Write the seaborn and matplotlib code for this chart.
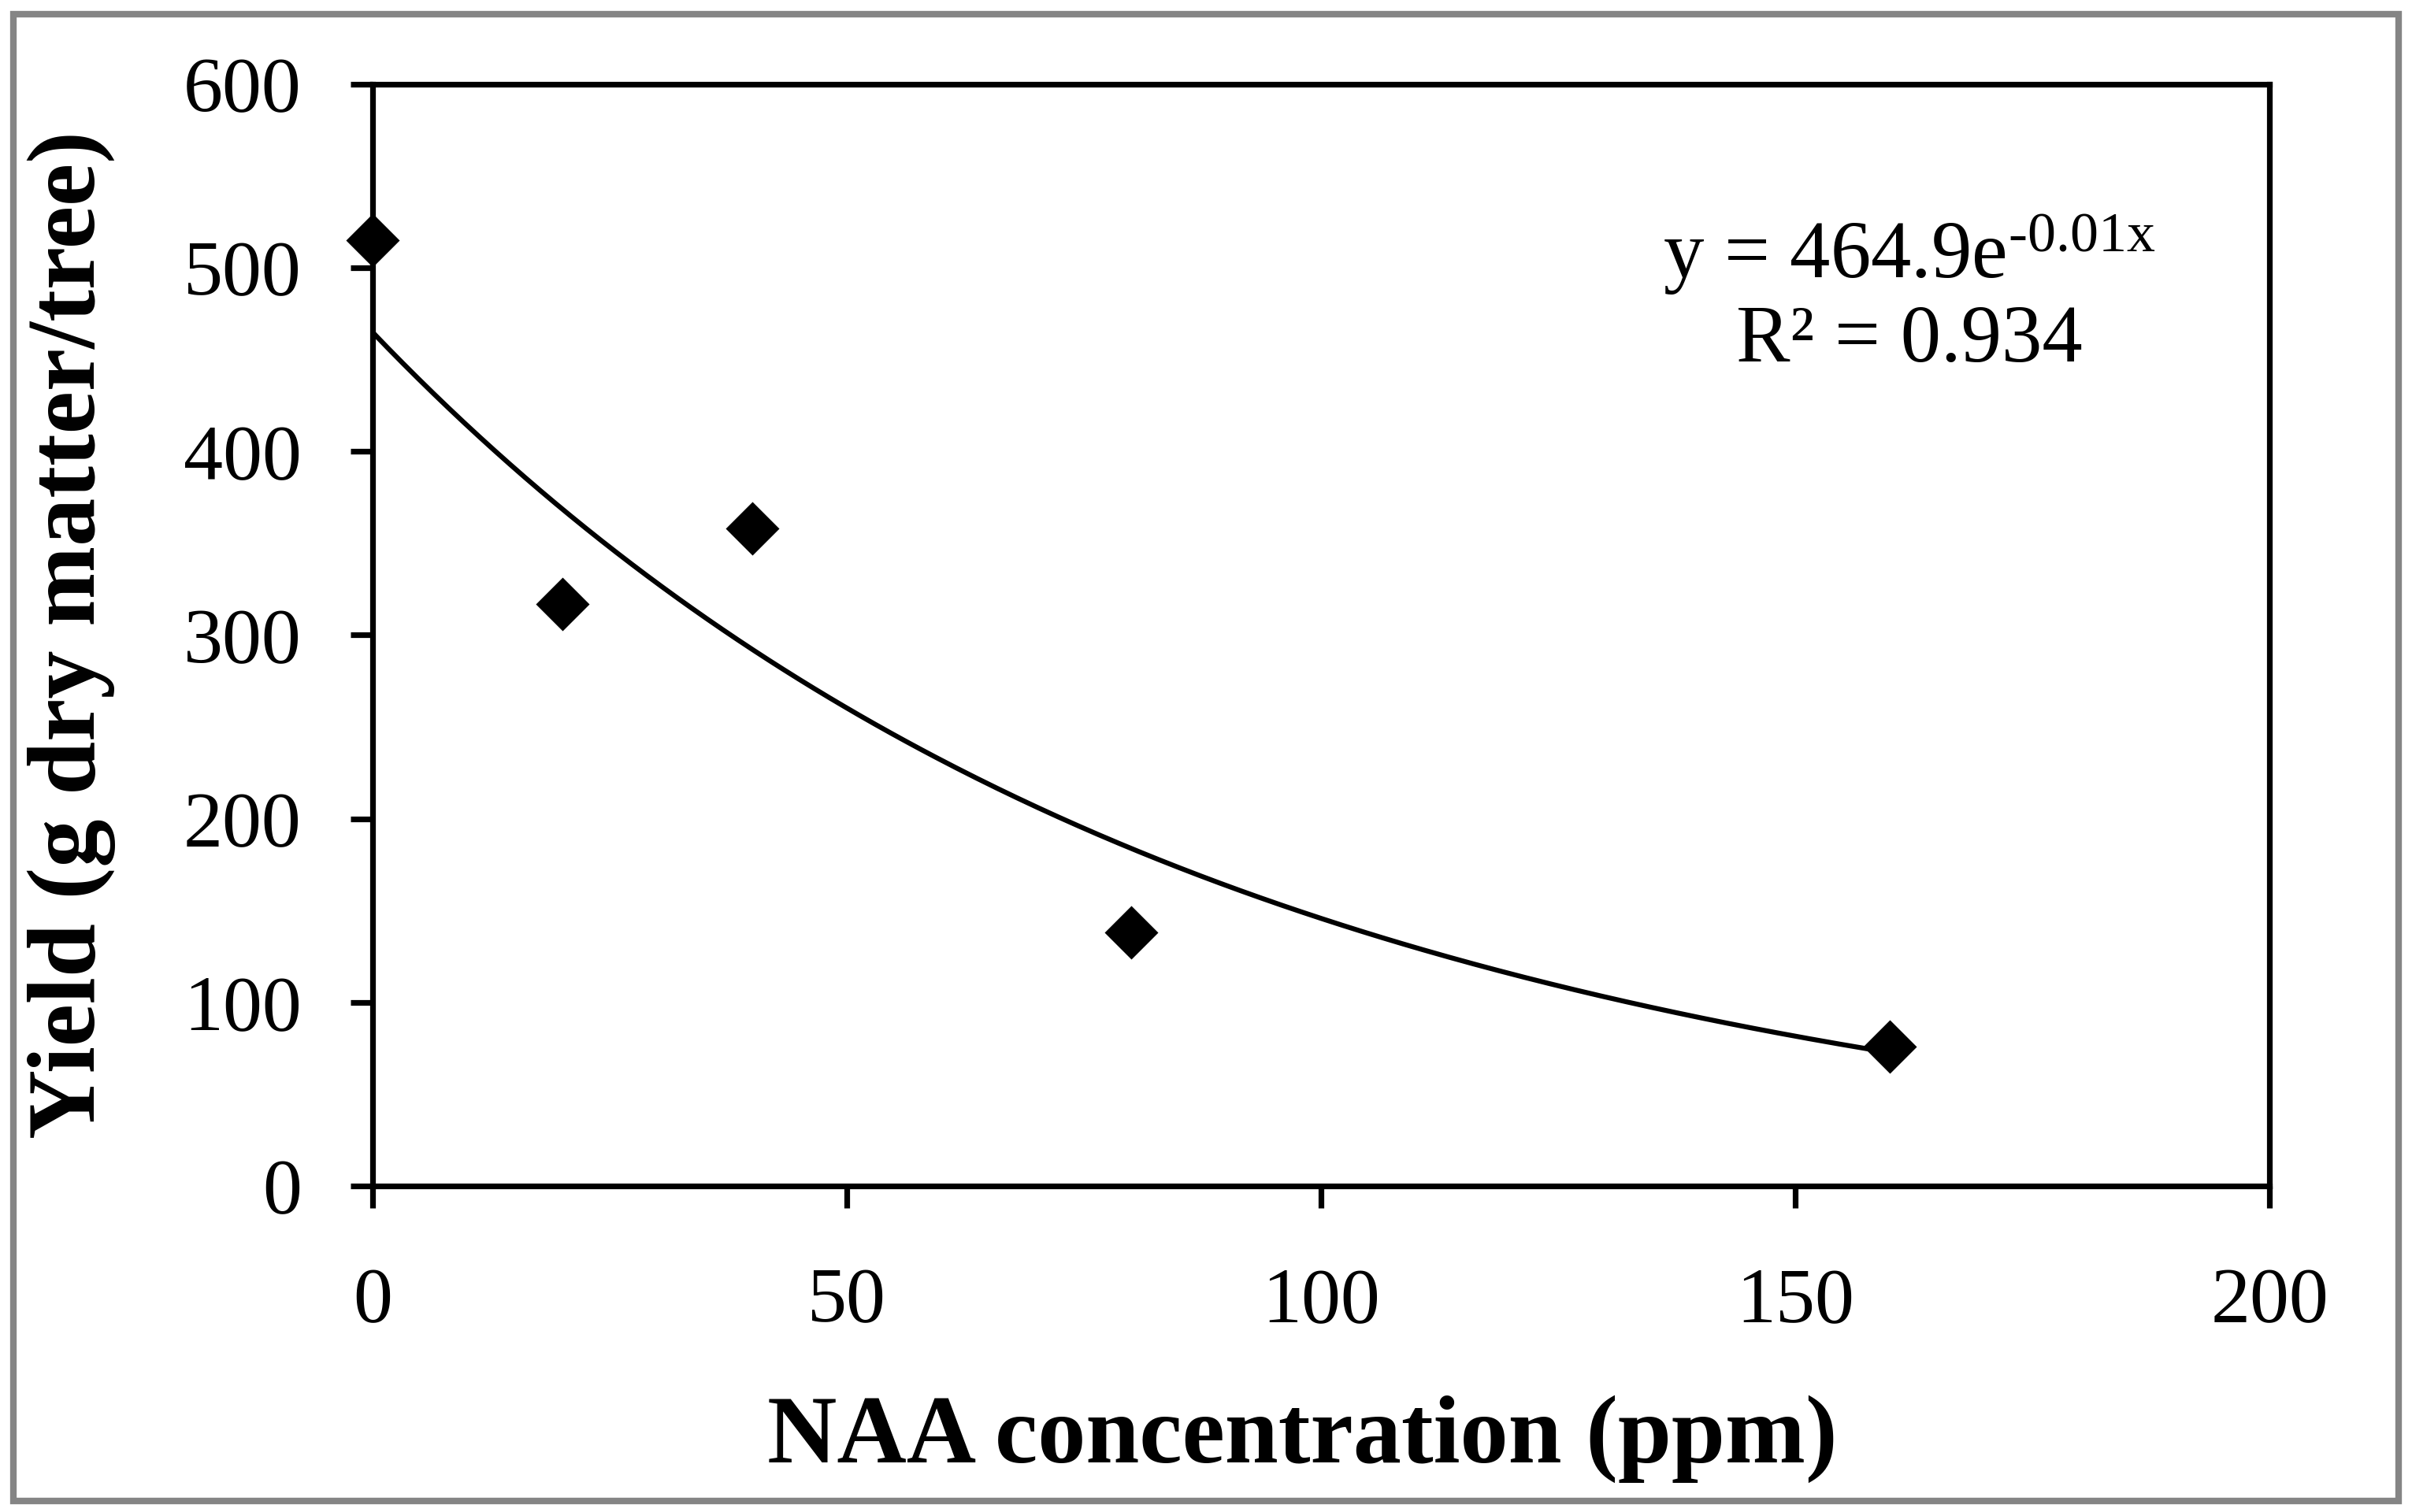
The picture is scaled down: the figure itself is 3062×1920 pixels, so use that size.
import numpy as np
import pandas as pd
import matplotlib
matplotlib.use('Agg')
import matplotlib.pyplot as plt
import seaborn as sns
from matplotlib.patches import Rectangle

# ---- data ----
naa_ppm = [0, 20, 40, 80, 160]
yield_g = [515, 317, 358, 138, 76]
trend_a = 464.9          # trendline coefficient
trend_b = -0.0116        # trendline exponent (label rounds to -0.01)
trend_x_max = 160
x_ticks = [0, 50, 100, 150, 200]
y_ticks = [0, 100, 200, 300, 400, 500, 600]
equation_text = 'y = 464.9e$^{\\mathrm{\u20100.01x}}$'
r2_text = 'R² = 0.934'
x_label = 'NAA concentration (ppm)'
y_label = 'Yield (g dry matter/tree)'

sns.set_style('white')
plt.rcParams['font.family'] = ['Liberation Serif', 'DejaVu Serif']
plt.rcParams['mathtext.fontset'] = 'custom'
plt.rcParams['mathtext.rm'] = 'Liberation Serif'
plt.rcParams['mathtext.it'] = 'Liberation Serif:italic'
plt.rcParams['mathtext.bf'] = 'Liberation Serif:bold'
plt.rcParams['text.color'] = 'black'
plt.rcParams['axes.labelcolor'] = 'black'

fig = plt.figure(figsize=(30.62, 19.2), dpi=100)
ax = fig.add_axes([0.1545, 0.2156, 0.7864, 0.7287])

df = pd.DataFrame({'x': naa_ppm, 'y': yield_g})
tx = np.linspace(0, trend_x_max, 300)
trend = pd.DataFrame({'x': tx, 'y': trend_a * np.exp(trend_b * tx)})

sns.lineplot(data=trend, x='x', y='y', ax=ax, color='black', lw=4.5, zorder=3)
sns.scatterplot(data=df, x='x', y='y', ax=ax, marker='D', s=1200, color='black',
                linewidth=0, zorder=4, clip_on=False)

ax.set_xlim(0, 200)
ax.set_ylim(0, 600)
ax.set_xticks(x_ticks)
ax.set_yticks(y_ticks)
ax.set_xticklabels([str(t) for t in x_ticks])
ax.set_yticklabels([str(t) for t in y_ticks])

for sp in ax.spines.values():
    sp.set_visible(True)
    sp.set_color('black')
    sp.set_linewidth(5.2)

ax.tick_params(axis='both', direction='out', length=20, width=5.2, color='black',
               labelsize=72, labelcolor='black')
ax.tick_params(axis='x', pad=54, bottom=True, top=False)
ax.tick_params(axis='y', pad=45, left=True, right=False)

ax.set_xlabel(x_label, fontsize=88, fontweight='bold', labelpad=52, color='black')
ax.set_ylabel(y_label, fontsize=88, fontweight='bold', labelpad=62, color='black')
ax.xaxis.label.set_x(0.49)

ax.text(0.81, 0.846, equation_text, transform=ax.transAxes, ha='center', va='center',
        fontsize=74, color='black')
ax.text(0.81, 0.766, r2_text, transform=ax.transAxes, ha='center', va='center',
        fontsize=74, color='black')

fig.patches.append(Rectangle((0.0057, 0.0073), 0.9887, 0.9835, transform=fig.transFigure,
                             fill=False, edgecolor='#858585', lw=6))

fig.savefig('out.png', dpi=100, facecolor='white')
